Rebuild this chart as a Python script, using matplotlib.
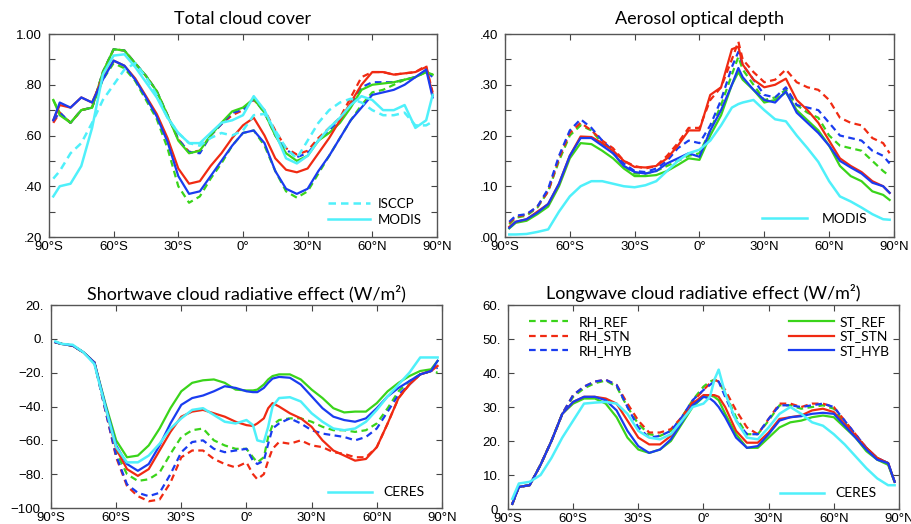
import numpy as np
import matplotlib
matplotlib.use("Agg")
import matplotlib.pyplot as plt
from matplotlib.ticker import MultipleLocator

# zonal means, latitude in degrees north
lat_ticks = [-90, -60, -30, 0, 30, 60, 90]
lat_labels = ["90°S", "60°S", "30°S", "0°", "30°N", "60°N", "90°N"]

# --- total cloud cover ---
lat_tcc = [-88, -85, -80, -75, -70, -65, -60, -55, -50, -45, -40, -35, -30, -25, -20, -15, -10, -5,
           0, 5, 10, 15, 20, 25, 30, 35, 40, 45, 50, 55, 60, 65, 70, 75, 80, 85, 88]
tcc_rh_ref = [0.74, 0.69, 0.65, 0.70, 0.71, 0.82, 0.885, 0.865, 0.815, 0.74, 0.665, 0.55, 0.40, 0.335, 0.36, 0.43, 0.49, 0.56,
              0.61, 0.62, 0.56, 0.46, 0.38, 0.355, 0.38, 0.45, 0.52, 0.59, 0.66, 0.72, 0.77, 0.78, 0.80, 0.82, 0.83, 0.85, 0.84]
tcc_rh_stn = [0.65, 0.69, 0.65, 0.70, 0.71, 0.85, 0.94, 0.935, 0.885, 0.835, 0.775, 0.68, 0.585, 0.535, 0.54, 0.60, 0.645, 0.68,
              0.70, 0.74, 0.70, 0.62, 0.55, 0.525, 0.54, 0.59, 0.63, 0.67, 0.75, 0.83, 0.85, 0.85, 0.84, 0.845, 0.85, 0.875, 0.77]
tcc_rh_hyb = [0.66, 0.69, 0.65, 0.70, 0.71, 0.85, 0.94, 0.935, 0.885, 0.835, 0.775, 0.68, 0.585, 0.535, 0.53, 0.60, 0.645, 0.69,
              0.70, 0.745, 0.69, 0.60, 0.545, 0.515, 0.53, 0.58, 0.62, 0.66, 0.72, 0.79, 0.81, 0.81, 0.81, 0.82, 0.83, 0.855, 0.83]
tcc_st_ref = [0.74, 0.68, 0.65, 0.70, 0.71, 0.85, 0.94, 0.935, 0.885, 0.835, 0.775, 0.68, 0.58, 0.53, 0.54, 0.60, 0.65, 0.695,
              0.71, 0.745, 0.69, 0.60, 0.53, 0.50, 0.52, 0.58, 0.61, 0.65, 0.71, 0.78, 0.80, 0.805, 0.81, 0.82, 0.83, 0.85, 0.84]
tcc_st_stn = [0.66, 0.72, 0.71, 0.75, 0.73, 0.83, 0.895, 0.875, 0.825, 0.755, 0.685, 0.59, 0.47, 0.41, 0.42, 0.48, 0.53, 0.59,
              0.64, 0.67, 0.60, 0.51, 0.465, 0.455, 0.47, 0.53, 0.59, 0.66, 0.73, 0.80, 0.85, 0.85, 0.84, 0.845, 0.85, 0.87, 0.76]
tcc_st_hyb = [0.66, 0.73, 0.71, 0.75, 0.73, 0.82, 0.895, 0.875, 0.82, 0.75, 0.675, 0.575, 0.44, 0.37, 0.38, 0.44, 0.50, 0.56,
              0.61, 0.62, 0.57, 0.46, 0.39, 0.37, 0.39, 0.46, 0.52, 0.59, 0.66, 0.71, 0.76, 0.77, 0.78, 0.80, 0.83, 0.86, 0.75]
tcc_isccp = [0.43, 0.46, 0.53, 0.57, 0.65, 0.74, 0.80, 0.86, 0.885, 0.83, 0.76, 0.67, 0.61, 0.57, 0.56, 0.59, 0.61, 0.60,
             0.62, 0.68, 0.685, 0.62, 0.55, 0.51, 0.58, 0.65, 0.70, 0.73, 0.745, 0.73, 0.70, 0.68, 0.68, 0.69, 0.64, 0.64, 0.655]
tcc_modis = [0.36, 0.40, 0.41, 0.48, 0.63, 0.84, 0.915, 0.92, 0.87, 0.81, 0.75, 0.67, 0.61, 0.57, 0.57, 0.61, 0.65, 0.66,
             0.68, 0.755, 0.70, 0.61, 0.51, 0.49, 0.52, 0.58, 0.63, 0.67, 0.72, 0.755, 0.74, 0.70, 0.70, 0.72, 0.63, 0.66, 0.76]

# --- aerosol optical depth ---
lat_aod = [-88, -85, -80, -75, -70, -65, -60, -55, -50, -45, -40, -35, -30, -25, -20, -15, -10, -5,
           0, 5, 10, 15, 18, 20, 25, 30, 35, 40, 45, 50, 55, 60, 65, 70, 75, 80, 85, 88]
aod_rh_ref = [.025, .038, .042, .058, .09, .15, .20, .22, .21, .185, .165, .14, .125, .125, .13, .14, .15, .16,
              .165, .21, .26, .32, .355, .33, .30, .27, .275, .29, .26, .245, .235, .20, .18, .175, .17, .15, .13, .12]
aod_rh_stn = [.028, .04, .044, .06, .09, .155, .205, .225, .21, .19, .175, .15, .14, .135, .14, .16, .185, .215,
              .215, .27, .295, .35, .385, .35, .325, .305, .31, .33, .305, .295, .29, .27, .235, .225, .22, .195, .185, .165]
aod_rh_hyb = [.03, .042, .045, .06, .095, .16, .21, .232, .215, .19, .17, .145, .13, .128, .135, .15, .175, .19,
              .185, .22, .27, .335, .365, .34, .31, .28, .275, .295, .26, .255, .25, .225, .20, .195, .19, .17, .16, .145]
aod_st_ref = [.017, .028, .032, .045, .06, .10, .155, .185, .183, .17, .155, .135, .12, .12, .122, .13, .142, .155,
              .152, .20, .24, .30, .325, .31, .29, .265, .27, .285, .25, .23, .21, .18, .14, .12, .11, .09, .083, .073]
aod_st_stn = [.02, .03, .035, .05, .065, .105, .16, .198, .197, .185, .17, .15, .138, .137, .14, .155, .18, .21,
              .21, .28, .295, .37, .375, .34, .31, .295, .30, .312, .27, .25, .225, .19, .155, .14, .128, .11, .10, .087]
aod_st_hyb = [.018, .03, .035, .048, .065, .105, .16, .195, .195, .18, .165, .14, .128, .125, .13, .145, .155, .165,
              .158, .21, .25, .30, .333, .315, .29, .27, .265, .287, .245, .225, .205, .18, .15, .137, .125, .107, .10, .087]
aod_modis = [.005, .005, .006, .01, .015, .05, .08, .10, .11, .11, .105, .10, .098, .102, .11, .13, .15, .165,
             .172, .19, .22, .255, .262, .265, .27, .25, .232, .228, .20, .175, .148, .11, .08, .07, .058, .045, .035, .034]

# --- shortwave cloud radiative effect ---
lat_sw = [-88, -85, -80, -75, -70, -65, -60, -55, -50, -45, -40, -35, -30, -25, -20, -15, -10, -5,
          0, 3, 5, 8, 10, 12, 15, 20, 25, 30, 35, 40, 45, 50, 55, 60, 65, 70, 75, 80, 85, 88]
sw_rh_ref = [-2, -3, -4, -8, -14, -41, -67, -80, -84, -83, -79, -68, -58, -54, -53, -60, -63, -65,
             -65, -70, -73, -70, -58, -51, -48, -47, -47, -49, -52, -54, -54, -55, -54, -50, -41, -31, -25, -21, -19, -20]
sw_rh_stn = [-2, -3, -4, -8, -14, -42, -70, -87, -93, -96, -95, -85, -70, -66, -66, -71, -74, -76,
             -73, -80, -83, -80, -72, -65, -61, -62, -60, -63, -64, -67, -68, -70, -70, -64, -50, -35, -27, -21, -19, -15]
sw_rh_hyb = [-2, -3, -4, -8, -14, -42, -69, -86, -91, -93, -91, -80, -67, -61, -60, -65, -67, -66,
             -65, -72, -74, -72, -62, -53, -50, -47, -50, -54, -56, -57, -58, -60, -58, -53, -43, -33, -27, -21, -19, -17]
sw_st_ref = [-2, -3, -4, -8, -14, -38, -60, -70, -69, -63, -53, -41, -31, -26, -24.5, -24, -26, -30,
             -30.5, -30.5, -30, -27, -24, -22, -21, -21, -24, -30, -35, -41, -43.5, -43, -43, -38, -31, -26, -22, -19, -18, -13]
sw_st_stn = [-2, -3, -4, -8, -14, -40, -65, -77, -81, -77, -66, -55, -46, -43, -42, -44, -46, -49,
             -51, -51.5, -50, -47, -41, -38, -40, -44, -47, -52, -60, -66, -69, -72, -71, -64, -50, -35, -27, -21, -19, -16]
sw_st_hyb = [-2, -3, -4, -8, -14, -39, -63, -74, -78, -74, -63, -50, -39, -35, -33.5, -31, -28, -29,
             -31, -31.5, -31.5, -29, -26, -23.5, -22.5, -23, -27, -34, -41, -46, -48, -49, -47, -41, -34, -29, -25, -21, -19, -13]
sw_ceres = [-1.5, -3, -3.5, -8, -15, -40, -64, -73, -73, -69, -62, -53, -47, -42, -41, -45, -49, -50,
            -48, -51, -60, -61, -52, -40, -35, -34.5, -37, -44, -49, -53, -54, -53, -49, -42, -34, -27, -20, -11, -11, -11]

# --- longwave cloud radiative effect ---
lat_lw = [-88, -85, -80, -75, -70, -65, -60, -55, -50, -45, -40, -35, -30, -25, -20, -15, -10, -5,
          0, 3, 5, 7, 10, 15, 20, 25, 30, 35, 40, 45, 50, 55, 60, 65, 70, 75, 80, 85, 88]
lw_rh_ref = [1.5, 6.5, 7, 13, 20, 28, 33, 35.5, 37, 37.8, 36, 30, 25, 22, 21.5, 23, 27, 32,
             36, 37.5, 38, 37.5, 34, 27, 22, 22, 26, 30.5, 30.5, 29.5, 30, 30.5, 29.5, 25.5, 21.5, 18, 15, 13.5, 8]
lw_rh_stn = [1.5, 6.5, 7, 13, 20, 28, 33.5, 36, 37.5, 38, 36.5, 31, 26, 22.5, 22.5, 23.5, 27, 31.5,
             35, 37, 38, 37.5, 35, 29, 24, 22, 26.5, 31, 31, 30, 31, 31, 30, 26, 22, 18, 15, 13.5, 8]
lw_rh_hyb = [1.5, 6.5, 7, 13, 20, 28, 33.5, 36, 37.5, 38, 36.5, 30, 24, 21, 21.5, 23, 27, 32,
             35, 36.5, 37.5, 37.5, 33, 26, 22, 22, 26.5, 30.5, 30.5, 30, 30.5, 31, 30, 26, 22, 18, 15, 13.5, 8]
lw_st_ref = [1.5, 6.5, 7, 13, 20, 28, 31, 32.5, 32.5, 31, 27, 21, 17.5, 16.5, 17.5, 20, 25, 30,
             33, 33.5, 33, 32, 28, 22, 18, 18, 21, 24, 25.5, 26, 27, 27.5, 27, 24, 21, 17, 14.5, 13, 8]
lw_st_stn = [1.5, 6.5, 7, 13, 20, 28, 31.5, 33, 33, 32.5, 31, 26, 21, 19, 19, 21.5, 26, 31,
             33.5, 33.5, 33.5, 33, 30, 23, 19.5, 19.5, 22.5, 26.5, 27, 27.5, 29, 29.5, 28.5, 25, 21.5, 18, 15, 13.5, 8]
lw_st_hyb = [1.5, 6.5, 7, 13, 20, 28, 31.5, 33, 33, 32, 29, 23, 18.5, 16.5, 17.5, 20.5, 25.5, 30.5,
             33, 32.5, 31.5, 30, 27, 21, 18, 18.5, 22, 26, 27, 27.3, 28, 28.3, 28, 24.5, 21, 17.5, 14.5, 13.5, 8]
lw_ceres = [3, 7.5, 8, 10, 15, 21, 26, 31, 31.3, 31.5, 31, 28, 23, 21, 20.5, 22, 26, 30,
            31, 33, 38, 41, 34, 26, 21, 20.5, 24, 28, 30, 28, 25.5, 24.5, 22, 19, 15.5, 12, 9, 7, 7]

GREEN = "#3ad41a"
RED = "#f02a12"
BLUE = "#1a3cf0"
CYAN = "#4ff0fa"
DASH = (0, (3, 2))

plt.rcParams["font.family"] = ["Liberation Sans", "DejaVu Sans"]
TITLE_FONT = ["Lato", "DejaVu Sans"]

fig = plt.figure(figsize=(9.12, 5.24), dpi=100)
ax1 = fig.add_axes([0.0537, 0.5477, 0.4254, 0.3874])
ax2 = fig.add_axes([0.5537, 0.5477, 0.4265, 0.3874])
ax3 = fig.add_axes([0.0559, 0.0305, 0.4287, 0.3874])
ax4 = fig.add_axes([0.5570, 0.0286, 0.4287, 0.3893])


def style(ax, title, ylim, major, labels, minor, tpad):
    ax.set_xlim(-90, 90)
    ax.set_xticks(lat_ticks)
    ax.set_xticklabels(lat_labels)
    ax.set_ylim(*ylim)
    ax.set_yticks(major)
    ax.set_yticklabels(labels)
    ax.yaxis.set_minor_locator(MultipleLocator(minor))
    ax.tick_params(which="both", direction="in", top=True, right=True,
                   length=4, width=0.8, color="#444444", labelsize=9.5, pad=5)
    ax.tick_params(axis="x", pad=3)
    for s in ax.spines.values():
        s.set_color("#555555")
        s.set_linewidth(1.0)
    ax.set_title(title, family=TITLE_FONT, fontsize=13, pad=tpad)


def models(ax, lat, rh_ref, rh_stn, rh_hyb, st_ref, st_stn, st_hyb):
    lw = 1.6
    h = []
    h += ax.plot(lat, rh_ref, color=GREEN, lw=lw, ls=DASH, label="RH_REF")
    h += ax.plot(lat, rh_stn, color=RED, lw=lw, ls=DASH, label="RH_STN")
    h += ax.plot(lat, rh_hyb, color=BLUE, lw=lw, ls=DASH, label="RH_HYB")
    h += ax.plot(lat, st_ref, color=GREEN, lw=lw, label="ST_REF")
    h += ax.plot(lat, st_stn, color=RED, lw=lw, label="ST_STN")
    h += ax.plot(lat, st_hyb, color=BLUE, lw=lw, label="ST_HYB")
    return h


leg_kw = dict(frameon=False, handlelength=3.2, handletextpad=0.8, borderaxespad=0,
              labelspacing=0.2, prop={"family": TITLE_FONT, "size": 10})

# Total cloud cover
models(ax1, lat_tcc, tcc_rh_ref, tcc_rh_stn, tcc_rh_hyb, tcc_st_ref, tcc_st_stn, tcc_st_hyb)
ax1.plot(lat_tcc, tcc_isccp, color=CYAN, lw=1.8, ls=DASH, label="ISCCP")
ax1.plot(lat_tcc, tcc_modis, color=CYAN, lw=1.8, label="MODIS")
style(ax1, "Total cloud cover", (0.2, 1.0), [0.2, 0.4, 0.6, 0.8, 1.0],
      [".20", ".40", ".60", ".80", "1.00"], 0.1, 7)
h, l = ax1.get_legend_handles_labels()
ax1.legend(h[6:], l[6:], loc="lower right", bbox_to_anchor=(0.975, 0.03),
           **dict(leg_kw, labelspacing=0.3, handletextpad=0.6, prop={"family": TITLE_FONT, "size": 9.5}))

# Aerosol optical depth
models(ax2, lat_aod, aod_rh_ref, aod_rh_stn, aod_rh_hyb, aod_st_ref, aod_st_stn, aod_st_hyb)
ax2.plot(lat_aod, aod_modis, color=CYAN, lw=1.8, label="MODIS")
style(ax2, "Aerosol optical depth", (0.0, 0.4), [0.0, 0.1, 0.2, 0.3, 0.4],
      [".00", ".10", ".20", ".30", ".40"], 0.05, 7)
h, l = ax2.get_legend_handles_labels()
ax2.legend(h[6:], l[6:], loc="lower right", bbox_to_anchor=(0.947, 0.03),
           **dict(leg_kw, handletextpad=1.1))

# Shortwave CRE
models(ax3, lat_sw, sw_rh_ref, sw_rh_stn, sw_rh_hyb, sw_st_ref, sw_st_stn, sw_st_hyb)
ax3.plot(lat_sw, sw_ceres, color=CYAN, lw=1.8, label="CERES")
style(ax3, "Shortwave cloud radiative effect (W/m²)", (-100, 20), [-100, -80, -60, -40, -20, 0, 20],
      ["−100.", "−80.", "−60.", "−40.", "−20.", "0.", "20."], 20, 4)
h, l = ax3.get_legend_handles_labels()
ax3.legend(h[6:], l[6:], loc="lower right", bbox_to_anchor=(0.97, 0.02), **leg_kw)

# Longwave CRE
hl = models(ax4, lat_lw, lw_rh_ref, lw_rh_stn, lw_rh_hyb, lw_st_ref, lw_st_stn, lw_st_hyb)
ax4.plot(lat_lw, lw_ceres, color=CYAN, lw=1.8, label="CERES")
style(ax4, "Longwave cloud radiative effect (W/m²)", (0, 60), [0, 10, 20, 30, 40, 50, 60],
      ["0.", "10.", "20.", "30.", "40.", "50.", "60."], 10, 4)
h, l = ax4.get_legend_handles_labels()
lg1 = ax4.legend(hl[:3], l[:3], loc="upper left", bbox_to_anchor=(0.04, 0.975),
                 **dict(leg_kw, handlelength=2.8))
ax4.add_artist(lg1)
lg2 = ax4.legend(hl[3:], l[3:], loc="upper right", bbox_to_anchor=(0.99, 0.975),
                 **dict(leg_kw, handletextpad=0.4))
ax4.add_artist(lg2)
ax4.legend(h[6:], l[6:], loc="lower right", bbox_to_anchor=(0.957, 0.02), **leg_kw)

fig.savefig("out.png", dpi=100)
